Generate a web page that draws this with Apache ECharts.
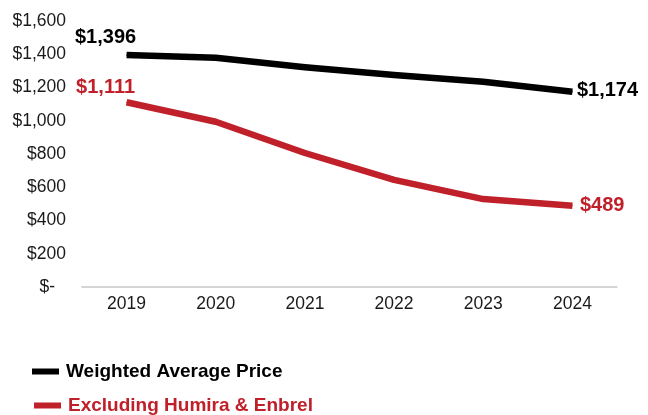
<!DOCTYPE html>
<html>
<head>
<meta charset="utf-8">
<script src="https://cdn.jsdelivr.net/npm/echarts@6/dist/echarts.min.js"></script>
<style>
  html, body { margin: 0; padding: 0; background: #fff; }
  #chart { width: 648px; height: 415px; }
</style>
</head>
<body>
<div id="chart"></div>
<script>
// Annual price per unit, in dollars
const years = ['2019', '2020', '2021', '2022', '2023', '2024'];
const weightedAverage = [1396, 1379, 1322, 1275, 1235, 1174];
const excludingHumiraEnbrel = [1111, 994, 806, 644, 529, 489];
const yTicks = [0, 200, 400, 600, 800, 1000, 1200, 1400, 1600];

const seriesNames = ['Weighted Average Price', 'Excluding Humira & Enbrel'];
const BLACK = '#000000';
const RED = '#C0202A';
const FONT = '"Liberation Sans", Arial, Helvetica, sans-serif';

const money = v => '$' + v.toLocaleString('en-US');

// Only the first and last points carry a value label
function withEndLabels(values, color, firstCfg, lastCfg) {
  const last = values.length - 1;
  return values.map((v, i) => {
    const item = { value: v };
    if (i === 0 || i === last) {
      const cfg = i === 0 ? firstCfg : lastCfg;
      item.label = Object.assign({
        show: true,
        color: color,
        fontFamily: FONT,
        fontWeight: 'bold',
        fontSize: 20,
        formatter: p => money(p.value)
      }, cfg);
    }
    return item;
  });
}

// One stacked legend entry per series
function legendEntry(name, color, left, top) {
  return {
    orient: 'vertical',
    left: left,
    top: top,
    padding: 0,
    itemWidth: 27,
    itemHeight: 6,
    selectedMode: false,
    textStyle: { fontFamily: FONT, fontWeight: 'bold', fontSize: 19, color: color, padding: [0, 0, 0, 2] },
    data: [{ name: name, icon: 'rect', itemStyle: { color: color } }]
  };
}

const chart = echarts.init(document.getElementById('chart'), null, { renderer: 'canvas' });

chart.setOption({
  backgroundColor: '#ffffff',
  animation: false,
  grid: { left: 82, right: 31, top: 21, bottom: 128, containLabel: false },
  legend: [
    legendEntry(seriesNames[0], BLACK, 32, 362),
    legendEntry(seriesNames[1], RED, 34, 396)
  ],
  xAxis: {
    type: 'category',
    data: years,
    boundaryGap: true,
    offset: 4,
    axisLine: { show: true, lineStyle: { color: '#c8c8c8', width: 1.5 } },
    axisTick: { show: false },
    axisLabel: { color: '#1a1a1a', fontFamily: FONT, fontSize: 17.5, margin: 4 },
    splitLine: { show: false }
  },
  yAxis: {
    type: 'value',
    min: yTicks[0],
    max: yTicks[yTicks.length - 1],
    interval: yTicks[1] - yTicks[0],
    axisLine: { show: false },
    axisTick: { show: false },
    splitLine: { show: false },
    axisLabel: {
      color: '#1a1a1a',
      fontFamily: FONT,
      fontSize: 17.5,
      margin: 16,
      formatter: v => v === 0 ? '{z|$-}' : money(v),
      rich: { z: { fontFamily: FONT, fontSize: 17.5, color: '#1a1a1a', padding: [0, 11, 0, 0] } }
    }
  },
  series: [
    {
      name: seriesNames[0],
      type: 'line',
      data: withEndLabels(weightedAverage, BLACK,
        { position: 'top', distance: 7, offset: [-21, 0] },
        { position: 'right', distance: 4, offset: [0, -1] }),
      symbol: 'circle',
      symbolSize: 1,
      showSymbol: true,
      itemStyle: { color: BLACK },
      lineStyle: { color: BLACK, width: 6.5, cap: 'butt', join: 'round' },
      z: 3
    },
    {
      name: seriesNames[1],
      type: 'line',
      data: withEndLabels(excludingHumiraEnbrel, RED,
        { position: 'top', distance: 4, offset: [-21, 0] },
        { position: 'right', distance: 7, offset: [0, 0] }),
      symbol: 'circle',
      symbolSize: 1,
      showSymbol: true,
      itemStyle: { color: RED },
      lineStyle: { color: RED, width: 6.5, cap: 'butt', join: 'round' },
      z: 2
    }
  ]
});
</script>
</body>
</html>
